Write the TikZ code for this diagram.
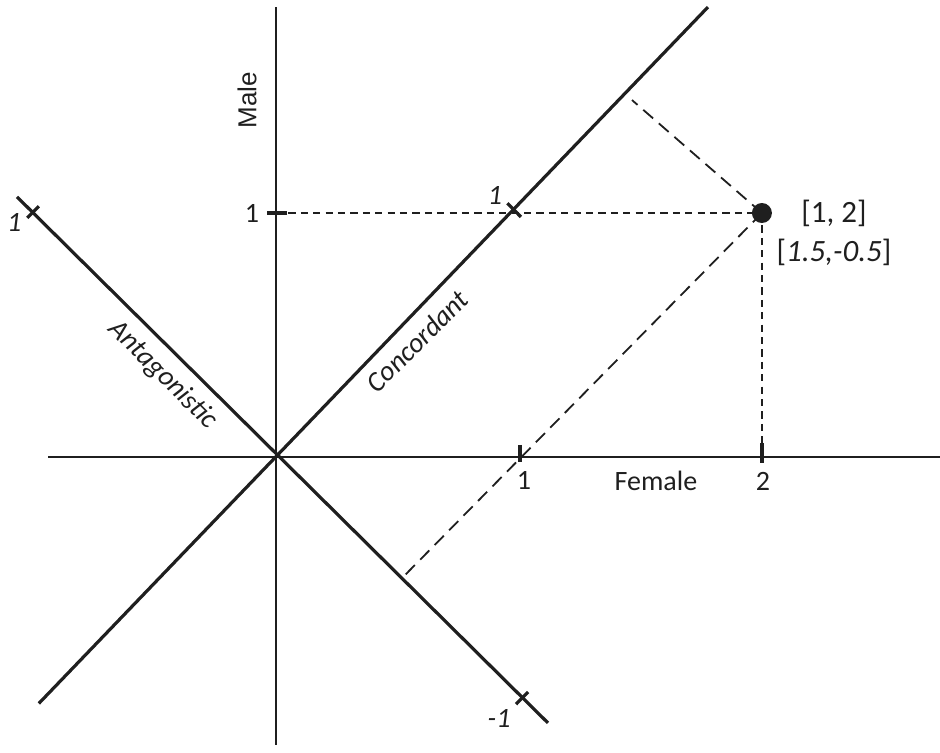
\documentclass[tikz,border=0pt]{standalone}
\usepackage{fontspec}
\setmainfont{Carlito}
\newfontfamily\arialfont{Liberation Sans}
\usetikzlibrary{positioning,calc}

\begin{document}
\begin{tikzpicture}[
  x=121pt, y=122pt,
  font=\fontsize{14}{16}\selectfont,
  axis/.style={line width=1.1pt, black!88},
  diag/.style={line width=1.6pt, black!88},
  tick/.style={line width=1.6pt, black!88},
  guide/.style={dash pattern=on 3.6pt off 2.6pt, line width=0.9pt, black!88},
  proj/.style={dash pattern=on 6.5pt off 3.8pt, line width=0.9pt, black!88},
  lbl/.style={inner sep=0pt, text=black!88}
]
  \useasboundingbox (-1.1405,-1.209) rectangle (2.7438,1.873);
  % axes and directions
  \coordinate (O) at (0,0);
  \coordinate (femL) at (-0.942,0);
  \coordinate (femR) at (2.75,0);
  \coordinate (maleB) at (0,-1.18);
  \coordinate (maleT) at (0,1.845);
  \coordinate (concB) at (-0.98,-1.01);
  \coordinate (concT) at (1.785,1.844);
  \coordinate (antT) at (-1.07,1.066);
  \coordinate (antB) at (1.124,-1.09);
  \draw[axis] (femL) -- (femR);
  \draw[axis] (maleB) -- (maleT);
  \draw[diag] (concB) -- (concT);
  \draw[diag] (antT) -- (antB);
  % the point and its projections
  \coordinate (P) at (2.008,1);
  \coordinate (m1) at (0,1);
  \coordinate (f1) at (1.008,0);
  \coordinate (f2) at (2.008,0);
  \coordinate (c1) at (0.982,1.014);
  \coordinate (c15) at (1.471,1.463);
  \coordinate (a1) at (-1.004,1.004);
  \coordinate (a05) at (0.521,-0.496);
  \coordinate (am1) at (1.017,-0.988);
  \draw[guide] (m1) -- (P);
  \draw[guide] (P) -- (f2);
  \draw[proj] (P) -- (c15);
  \draw[proj] (P) -- (a05);
  % ticks
  \draw[tick] ($(m1)+(-0.037,0)$) -- ($(m1)+(0.045,0)$);
  \draw[tick] ($(f1)+(0,0.05)$) -- ($(f1)+(0,-0.02)$);
  \draw[tick] ($(f2)+(0,0.057)$) -- ($(f2)+(0,-0.025)$);
  \draw[tick] ($(c1)+(-0.026,0.026)$) -- ($(c1)+(0.03,-0.03)$);
  \draw[tick] ($(a1)+(-0.024,-0.024)$) -- ($(a1)+(0.024,0.024)$);
  \draw[tick] ($(am1)+(-0.025,-0.025)$) -- ($(am1)+(0.025,0.025)$);
  \fill[black!88] (P) circle (5pt);
  % labels
  \node[lbl, rotate=90] (male) at (-0.120,1.463) {\arialfont\fontsize{13}{15}\selectfont Male};
  \node[lbl] (m1lbl) at (-0.099,1) {1};
  \node[lbl] (female) at (1.570,-0.098) {Female};
  \node[lbl] (f1lbl) at (1.025,-0.098) {1};
  \node[lbl] (f2lbl) at (2.012,-0.098) {2};
  \node[lbl, font=\fontsize{15.5}{18}\selectfont] (orig) at (2.306,1) {[1, 2]};
  \node[lbl, font=\fontsize{15.5}{18}\selectfont] (rot) at (2.306,0.84) {[\textit{1.5,-0.5}]};
  \node[lbl, rotate=-45] (ant) at (-0.467,0.336) {\textit{Antagonistic}};
  \node[lbl, rotate=45] (conc) at (0.583,0.475) {\textit{Concordant}};
  \node[lbl] (c1lbl) at (0.905,1.07) {\textit{1}};
  \node[lbl] (a1lbl) at (-1.082,0.96) {\textit{1}};
  \node[lbl] (am1lbl) at (0.922,-1.07) {\textit{-1}};
\end{tikzpicture}
\end{document}
